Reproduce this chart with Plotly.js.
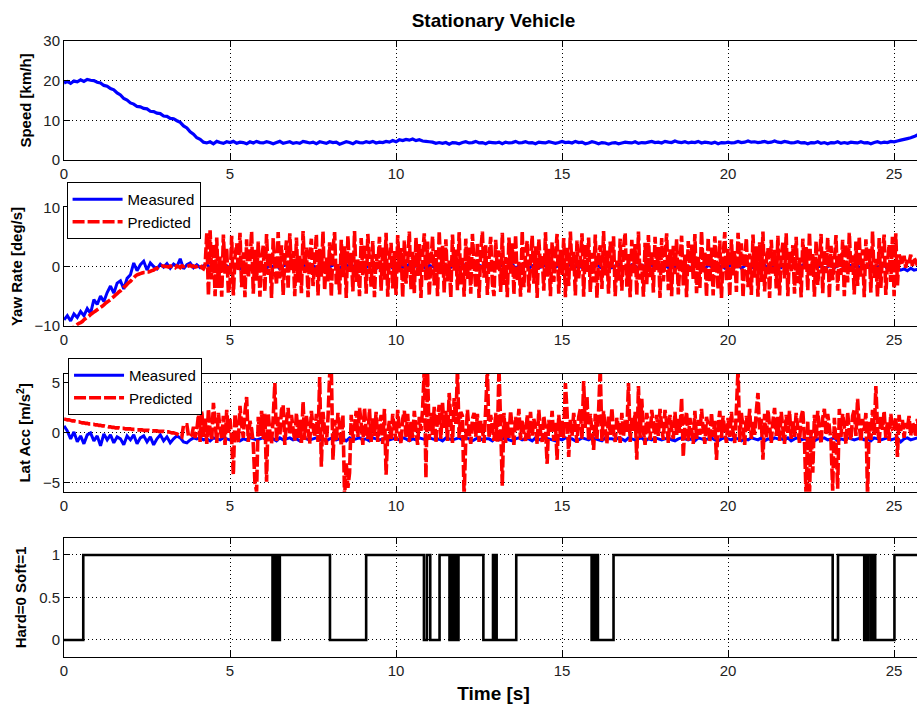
<!DOCTYPE html>
<html>
<head>
<meta charset="utf-8">
<script src="https://cdn.plot.ly/plotly-3.0.1.min.js"></script>
<style>
  html, body { margin: 0; padding: 0; overflow: hidden; background: #fff; }
  #chart { width: 923px; height: 704px; }
</style>
</head>
<body>
<div id="chart"></div>
<script>
// Logged signals start at t = 0 s. Measured channels every 0.1 s,
// model predictions every 0.05 s.
const sampleStart = 0;
const measuredPeriod = 0.1;
const predictedPeriod = 0.05;

// Vehicle speed [km/h]
const speed = [
  19.4, 19.8, 19.3, 19.9, 19.7, 20.2, 19.8, 20.3, 20.1, 20.0,
  19.6, 19.4, 18.8, 18.6, 18.0, 17.7, 16.9, 16.4, 15.5, 15.1,
  14.4, 14.1, 13.5, 13.4, 13.0, 12.9, 12.3, 12.2, 11.8, 11.7,
  11.1, 11.0, 10.5, 10.4, 9.9, 9.5, 8.6, 8.1, 7.1, 6.5,
  5.6, 5.2, 4.5, 4.3, 4.6, 4.1, 4.7, 4.4, 4.2, 4.6,
  4.4, 4.7, 4.2, 4.5, 4.4, 4.1, 4.6, 4.3, 4.7, 4.4,
  4.3, 4.6, 4.4, 4.1, 4.4, 4.7, 4.2, 4.4, 4.6, 4.2,
  4.4, 4.2, 4.7, 4.5, 4.3, 4.5, 4.1, 4.6, 4.4, 4.2,
  4.6, 4.4, 4.5, 4.0, 4.3, 4.6, 4.4, 4.1, 4.6, 4.4,
  4.3, 4.6, 4.4, 4.7, 4.3, 4.5, 4.4, 4.7, 4.5, 4.9,
  4.6, 5.1, 4.9, 5.2, 5.0, 5.3, 4.9, 5.1, 4.8, 4.7,
  4.6, 4.5, 4.2, 4.4, 4.2, 4.4, 4.0, 4.4, 4.3, 4.1,
  4.4, 4.6, 4.3, 4.4, 4.7, 4.3, 4.4, 4.1, 4.5, 4.4,
  4.3, 4.5, 4.1, 4.5, 4.3, 4.4, 4.7, 4.3, 4.4, 4.6,
  4.3, 4.4, 4.1, 4.5, 4.4, 4.3, 4.6, 4.4, 4.2, 4.4,
  4.7, 4.4, 4.5, 4.3, 4.7, 4.4, 4.5, 4.1, 4.3, 4.6,
  4.4, 4.1, 4.4, 4.3, 4.0, 4.3, 4.4, 4.1, 4.3, 4.5,
  4.4, 4.3, 4.6, 4.2, 4.4, 4.3, 4.5, 4.7, 4.4, 4.5,
  4.3, 4.7, 4.5, 4.4, 4.8, 4.5, 4.4, 4.6, 4.3, 4.5,
  4.4, 4.7, 4.3, 4.5, 4.4, 4.2, 4.5, 4.1, 4.4, 4.3,
  4.5, 4.3, 4.4, 4.7, 4.4, 4.5, 4.8, 4.5, 4.6, 4.4,
  4.5, 4.7, 4.4, 4.5, 4.8, 4.5, 4.4, 4.7, 4.5, 4.3,
  4.4, 4.6, 4.3, 4.4, 4.1, 4.4, 4.3, 4.6, 4.2, 4.4,
  4.1, 4.4, 4.3, 4.6, 4.2, 4.4, 4.2, 4.5, 4.4, 4.3,
  4.6, 4.3, 4.4, 4.1, 4.4, 4.6, 4.3, 4.5, 4.4, 4.7,
  4.6, 4.8, 5.0, 5.2, 5.4, 5.6, 5.9, 6.3, 6.7
];

// Yaw rate [deg/s]
const yawMeasured = [
  -9.0, -8.3, -9.2, -8.0, -8.6, -7.6, -8.3, -7.1, -7.9, -5.6,
  -6.4, -5.0, -5.9, -4.4, -3.3, -4.5, -2.8, -2.4, -3.8, -2.0,
  -1.4, 0.6, -0.7, 0.3, 0.9, -0.6, 0.6, 0.0, -0.4, 0.4,
  -0.1, 0.5, -0.3, 0.4, 0.0, 1.3, -0.4, 0.3, 0.6, -0.2,
  0.3, -0.2, 0.1, 0.4, -0.3, 0.2, 0.0, -0.4, 0.3, 0.1,
  -0.2, 0.3, 0.0, -0.4, 0.2, 0.1, -0.3, 0.4, -0.1, 0.2,
  0.0, -0.3, 0.3, -0.1, 0.2, -0.4, 0.1, 0.3, -0.2, 0.0,
  0.2, -0.1, 0.4, -0.3, 0.0, 0.2, -0.2, 0.3, -0.4, 0.1,
  -0.1, 0.3, 0.0, -0.3, 0.2, 0.4, -0.2, 0.1, -0.3, 0.2,
  0.0, -0.2, 0.3, 0.1, -0.4, 0.2, 0.0, -0.1, 0.3, -0.3,
  0.1, 0.3, -0.2, 0.0, 0.4, -0.3, 0.2, -0.1, 0.1, -0.4,
  0.2, 0.0, -0.3, 0.3, -0.1, 0.2, -0.4, 0.1, 0.3, -0.2,
  0.0, 0.4, -0.2, 0.1, -0.3, 0.2, 0.0, -0.1, 0.3, -0.4,
  0.2, -0.1, 0.3, 0.0, -0.2, 0.4, -0.3, 0.1, 0.0, 0.2,
  -0.3, 0.1, 0.3, -0.2, 0.0, 0.2, -0.4, 0.3, -0.1, 0.1,
  0.0, -0.3, 0.2, 0.4, -0.1, 0.1, -0.2, 0.3, 0.0, -0.4,
  0.2, 0.1, -0.3, 0.0, 0.3, -0.2, 0.1, 0.4, -0.1, 0.0,
  -0.2, 0.3, 0.1, -0.4, 0.2, 0.0, -0.1, 0.3, -0.3, 0.1,
  0.0, 0.2, -0.2, 0.4, -0.1, 0.1, -0.3, 0.2, 0.0, -0.2,
  0.3, -0.1, 0.1, -0.4, 0.2, 0.0, 0.3, -0.2, 0.1, -0.3,
  0.0, 0.2, -0.1, 0.3, -0.3, 0.1, 0.4, -0.2, 0.0, 0.2,
  -0.1, 0.3, -0.4, 0.1, 0.0, 0.2, -0.2, 0.3, -0.1, 0.0,
  0.2, -0.3, 0.1, 0.4, -0.2, 0.0, 0.3, -0.1, 0.1, -0.4,
  0.0, 0.2, -0.2, 0.1, 0.3, -0.3, 0.0, 0.2, -0.1, 0.1,
  -0.3, 0.2, 0.0, 0.4, -0.2, 0.1, -0.1, 0.3, -0.4, 0.0,
  0.1, -0.3, -0.6, -0.4, -0.7, -0.3, -0.6, -0.5, -0.4
];

const yawPredicted = [
  -11.2, -11.0, -10.9, -10.7, -10.6, -10.4, -10.2, -10.0, -9.8, -9.6,
  -9.5, -9.3, -9.0, -8.8, -8.6, -8.4, -8.1, -7.9, -7.7, -7.5,
  -7.3, -7.1, -6.9, -6.7, -6.5, -6.2, -6.0, -5.8, -5.6, -5.3,
  -5.1, -4.8, -4.6, -4.3, -4.1, -3.8, -3.5, -3.3, -3.0, -2.7,
  -2.5, -2.2, -1.9, -1.6, -1.4, -1.3, -1.2, -1.1, -1.0, -1.0,
  -0.9, -0.9, -0.8, -0.7, -0.6, -0.4, -0.3, -0.1, 0.0, 0.1,
  0.1, 0.0, 0.0, -0.1, 0.1, 0.0, 0.0, -0.2, 0.1, 0.0,
  -0.2, 0.1, 0.0, 0.2, 0.0, 0.1, 0.2, 0.0, 0.1, -0.1,
  0.0, 0.2, 0.3, -0.2, -0.4, 0.2,
  5.6, -4.9, 6.1, -2.2, 3.8, -5.0, 4.9, -3.6, 1.7, -5.1, 5.4, -1.2, 3.1, -4.4,
  -2.8, 5.2, -4.9, 1.6, 3.9, -0.8, 5.7, -3.5, 2.4, -5.2, 4.6, -1.9, 0.9, 5.9, -4.6, 2.8, -2.4, 4.2, -5.1, 1.3,
  3.5, -4.2, 5.5, -1.4, 2.2, -5.3, 4.8, 0.3, -3.1, 5.8, -2.0, 3.6, -4.8, 1.1, 4.4, -3.8, 5.6, -0.6, 2.6, -5.0,
  4.9, -2.7, 1.8, -4.5, 6.0, -1.1, 3.2, -5.2, 2.0, 4.7, -3.3, 0.7, 5.4, -4.9, 3.0, -1.7, 5.9, -4.0, 1.5, -2.5,
  4.1, -5.1, 2.9, 5.8, -3.0, 0.4, -4.7, 4.5, -1.8, 3.4, -5.3, 5.2, -0.9, 2.3, -4.2, 6.0, -2.6, 1.2, -5.0, 4.8,
  -1.5, 3.7, -4.6, 5.5, 0.8, -3.4, 4.3, -5.2, 2.1, -0.4, 5.0, -4.1, 3.3, -2.2, 5.7, -5.1, 1.4, 4.0, -3.7, 2.6,
  -4.8, 5.3, -1.0, 3.1, -5.2, 4.4, -2.9, 0.6, 5.9, -3.9, 2.5, -4.5, 4.9, -1.6, 3.8, -5.3, 1.9, 5.6, -2.3, 4.2,
  -4.9, 0.9, 5.1, -3.2, 2.8, -5.0, 6.0, -1.3, 3.5, -4.4, 4.6, -2.5, 1.0, -5.2, 5.4, -0.7, 2.9, -4.0, 5.8, -3.0,
  1.7, -5.1, 4.7, -2.1, 3.2, -4.6, 5.5, 0.2, -3.6, 4.0, -5.3, 2.4, 5.9, -1.9, 3.6, -4.8, 1.3, 5.0, -2.8, -5.0,
  4.5, -0.5, 2.7, -4.3, 5.7, -3.1, 1.6, -5.2, 4.9, -1.2, 3.9, -4.7, 5.3, -2.4, 0.8, -5.1, 6.0, -3.5, 2.2, 4.3,
  -4.4, 1.1, 5.2, -2.9, 3.4, -5.3, 4.6, -0.3, 2.0, -4.1, 5.8, -1.7, 3.0, -5.0, 4.1, -2.6, 1.5, 5.5, -4.6, 2.8,
  -1.4, 4.8, -5.2, 3.3, -3.3, 5.9, -0.8, 2.5, -4.9, 4.4, -2.0, 1.2, 5.6, -5.1, 3.7, -1.0, 4.9, -4.3, 2.3, -2.7,
  5.4, -5.3, 1.9, 3.6, -3.8, 6.0, -1.5, 2.7, -4.6, 4.2, -0.4, 5.1, -5.0, 1.0, -2.4, 4.7, -4.1, 3.1, 5.7, -3.4,
  2.1, -5.2, 4.5, -1.1, 3.8, -4.8, 5.9, -2.2, 0.5, -5.1, 4.0, -3.0, 5.3, -1.8, 2.6, -4.4, 5.0, -0.6, 3.3, -5.3,
  4.8, -2.5, 1.4, 5.6, -4.0, 2.9, -5.0, 3.5, -1.3, 4.6, -4.7, 0.8, 5.2, -3.2, 2.0, -5.2, 4.3, -0.9, 3.7, -2.1,
  5.5, -4.5, 1.8, -3.6, 6.0, -1.0, 2.4, -5.1, 4.9, -2.7, 3.2, -4.9, 5.1, 0.3, -3.9, 4.4, -5.3, 1.6, 5.8, -2.3,
  3.0, -5.0, 4.6, -1.5, 2.6, -4.3, 5.7, -0.2, 3.9, -5.2, 1.2, 4.8, -3.5, 2.2, -4.8, 5.4, -1.9, 3.4, -5.1, 4.1,
  -2.6, 5.9, -4.2, 0.9, 3.1, -5.3, 4.5, -1.2, 2.8, -3.7, 5.2, -4.9, 1.7, 4.0, -2.0, 5.6, -5.0, 2.5, -0.8, 3.6,
  -4.6, 5.0, -2.8, 1.5, -5.2, 4.7, -0.5, 3.3, -4.0, 5.8, -1.6, 2.1, -5.1, 4.3, -3.1, 1.0, 5.5, -4.5, 2.7, -1.1,
  4.9, -5.3, 3.5, -2.3, 0.6, 5.3, -4.1, 2.3, -1.4, 4.5, -5.0, 3.8, -2.7, 5.7, -0.9, 1.9, -4.7, 4.2, -3.3, 5.1,
  -1.7, 2.9, -5.2, 4.6, -0.4, 3.0, -4.4, 5.9, -2.1, 1.3, -5.1, 4.8, -3.6, 2.4, 5.4, -4.8, 0.7, 3.7, -2.6, 5.0,
  -5.0, 5.6, -3.2, 2.0, 1.4, 0.3, 1.8, -0.2, 1.2, 0.6, 2.0, 0.1, 1.5, 0.9, 0.2, 1.7, 0.4, 1.1
];

// Lateral acceleration [m/s^2]
const latMeasured = [
  0.7, 0.2, -0.6, 0.1, -0.9, -0.3, -1.1, -0.2, 0.0, -0.8,
  -0.3, -1.3, -0.1, -0.7, -0.2, -1.0, -0.4, -0.6, -1.2, -0.3,
  -0.7, -0.2, -1.1, -0.5, -0.3, -0.9, -0.4, -1.2, -0.6, -0.2,
  -0.8, -0.4, -1.0, -0.6, -0.3, -0.5, -0.9, -1.0, -0.7, -0.5,
  -0.6, -0.5, -0.7, -0.6, -0.8, -0.5, -0.6, -0.7, -0.5, -0.6,
  -0.7, -0.6, -0.5, -0.8, -0.6, -0.7, -0.5, -0.6, -0.7, -0.6,
  -0.5, -0.7, -0.6, -0.6, -0.8, -0.5, -0.7, -0.6, -0.5, -0.7,
  -0.6, -0.8, -0.5, -0.6, -0.7, -0.6, -0.5, -0.7, -0.6, -0.8,
  -0.6, -0.5, -0.7, -0.6, -0.6, -0.8, -0.5, -0.7, -0.6, -0.5,
  -0.7, -0.6, -0.8, -0.5, -0.6, -0.7, -0.6, -0.5, -0.7, -0.6,
  -0.6, -0.7, -0.5, -0.6, -0.8, -0.6, -0.7, -0.5, -0.6, -0.7,
  -0.5, -0.6, -0.7, -0.6, -0.8, -0.5, -0.6, -0.7, -0.6, -0.5,
  -0.7, -0.5, -0.6, -0.8, -0.6, -0.5, -0.7, -0.6, -0.6, -0.8,
  -0.5, -0.7, -0.6, -0.5, -0.7, -0.8, -0.6, -0.5, -0.7, -0.6,
  -0.6, -0.8, -0.5, -0.7, -0.6, -0.5, -0.6, -0.7, -0.8, -0.6,
  -0.7, -0.5, -0.6, -0.6, -0.8, -0.7, -0.5, -0.6, -0.7, -0.5,
  -0.6, -0.7, -0.8, -0.5, -0.6, -0.6, -0.7, -0.5, -0.6, -0.8,
  -0.5, -0.6, -0.7, -0.6, -0.5, -0.8, -0.6, -0.7, -0.5, -0.6,
  -0.7, -0.6, -0.5, -0.7, -0.8, -0.6, -0.5, -0.6, -0.7, -0.6,
  -0.8, -0.5, -0.6, -0.7, -0.6, -0.5, -0.7, -0.8, -0.6, -0.5,
  -0.6, -0.7, -0.5, -0.6, -0.8, -0.6, -0.7, -0.5, -0.6, -0.7,
  -0.5, -0.8, -0.6, -0.7, -0.5, -0.6, -0.6, -0.7, -0.5, -0.8,
  -0.6, -0.5, -0.7, -0.6, -0.7, -0.5, -0.8, -0.6, -0.6, -0.5,
  -0.7, -0.6, -0.5, -0.8, -0.6, -0.7, -0.5, -0.6, -0.7, -0.6,
  -0.5, -0.7, -0.6, -0.8, -0.5, -0.6, -0.7, -0.6, -0.5, -0.7,
  -0.6, -0.5, -0.9, -0.6, -0.5, -0.7, -0.6, -0.5, -0.6
];

const latPredicted = [
  1.4, 1.35, 1.3, 1.3, 1.25, 1.2, 1.2, 1.15, 1.1, 1.1,
  1.05, 1.0, 1.0, 0.95, 0.95, 0.9, 0.9, 0.85, 0.85, 0.8,
  0.8, 0.75, 0.75, 0.7, 0.7, 0.65, 0.65, 0.6, 0.6, 0.55,
  0.55, 0.5, 0.5, 0.5, 0.45, 0.45, 0.45, 0.4, 0.4, 0.4,
  0.4, 0.35, 0.35, 0.35, 0.3, 0.3, 0.3, 0.3, 0.25, 0.25,
  0.25, 0.25, 0.2, 0.2, 0.2, 0.2, 0.2, 0.15, 0.15, 0.15,
  0.15, 0.1, 0.1, 0.1, 0.05, 0.0, 0.0, -0.05, -0.1, -0.2,
  -0.3, -0.4, 0.8, 0.8, 0.8, -0.3, -0.4, -0.2, 0.6, -0.5,
  0.3, 1.8, -0.9, 2.2, -0.4, 1.5, -1.1, 2.4, 0.2, -0.7, 3.0, 1.1, -1.0, 2.0, 0.5, -0.6, 1.7, -1.2, 2.3, 0.0,
  1.4, -0.8, -4.2, 1.9, 0.3, -1.0, 2.7, 0.8, -0.5, 2.1, 3.6, -0.9, 1.2, 0.4, -1.1, -5.0, -5.9, 1.6, -0.3, 2.2,
  -0.6, 1.9, -4.9, 2.0, 0.1, -1.1, 1.5, 5.0, -0.9, 1.6, -0.3, 2.3, 2.8, -1.2, 1.1, 2.5, -0.2, 1.8, 0.4, -0.8,
  2.0, -0.5, 1.3, -1.0, 3.1, -0.7, 1.7, 0.4, -1.1, 2.2, 0.6, -0.4, 1.9, -0.9, 5.6, -3.4, 2.1, 0.2, -1.2, 1.5,
  5.8, 6.5, -2.7, 1.3, -0.8, 2.0, 0.6, -1.3, 1.8, -6.5, -3.0, -5.5, -4.0, 1.8, -1.0, 0.6, 2.2, -0.4, 2.5, 1.0,
  -1.2, 2.5, 0.2, -0.6, 2.4, -0.9, 1.5, -0.3, 2.1, -0.9, 0.7, 1.8, -1.1, 2.4, -4.2, 0.0, 1.2, -0.7, 1.9, 0.3,
  -0.8, 2.3, 0.1, -1.1, 1.4, 2.2, -0.4, 1.9, -0.9, 1.1, -0.5, 2.2, 0.3, -1.2, 1.6, 0.2, 2.4, 6.5, -4.5, 6.0,
  -0.7, 2.0, -0.2, 2.6, -1.0, 1.5, 2.8, -0.6, 3.0, 0.4, 2.2, -0.8, 4.0, 1.2, -1.0, 3.5, 0.9, 6.5, -0.5, 2.1,
  1.7, -6.5, -0.6, 2.3, 0.1, -1.1, 1.4, 2.0, -0.4, 1.9, -0.9, 1.2, 0.3, -1.0, 2.4, 6.5, -0.5, 1.8, 0.6, -0.8,
  2.0, -0.9, 6.5, 0.8, -5.3, 2.0, -1.0, 1.1, -0.5, 2.2, 0.3, -1.2, 1.6, 0.2, 2.4, -0.7, 1.3, 0.0, -0.8, 1.8,
  -0.6, 2.1, -0.3, 1.4, 0.5, -1.1, 2.3, 0.1, -0.9, 1.7, 0.4, -3.1, 1.3, 0.0, 2.2, -0.8, 1.0, -2.7, 1.8, -0.4,
  1.2, -0.5, 5.0, 2.1, -2.4, 1.4, -0.3, 2.0, 0.6, -1.0, 1.6, 2.4, -0.6, 5.2, 0.5, 3.7, -0.8, 1.9, 0.2, -1.7,
  1.9, -0.6, 2.2, 6.5, -0.8, 2.2, 0.4, -1.1, 1.7, -0.2, 2.5, 0.1, -0.9, 1.5, 0.6, -1.0, 2.0, -0.3, 1.3, 0.0,
  5.0, -0.9, 1.6, 0.2, 2.1, -2.7, 4.7, -0.5, 3.4, 0.2, -1.2, 2.0, 0.6, -0.7, 2.3, 1.0, -1.0, 1.8, -0.3, 2.4,
  0.6, -0.7, 2.3, 1.0, -1.0, 1.8, 0.3, -0.6, 2.1, -0.2, 1.4, 0.0, 3.5, -2.4, 0.9, 2.1, -0.8, 1.5, 0.4, -1.1,
  2.2, -0.6, 1.3, -0.2, 2.4, 0.3, -1.1, 1.6, 0.7, -0.9, 2.0, -0.4, 1.2, -2.7, 0.8, 2.2, -0.5, 1.7, 0.1, -1.0,
  1.5, -0.4, 2.1, 0.0, -1.0, 2.3, 6.5, -0.9, 2.0, 0.5, -1.2, 1.7, 0.2, 2.4, -0.6, 1.1, -0.2, 2.2, 4.0, 0.3,
  1.4, -2.7, 1.9, -0.5, 2.3, 0.7, -1.0, 1.2, 2.5, -0.3, 1.6, -0.8, 2.1, 0.4, -1.1, 1.8, 0.0, 2.2, -0.6, 1.3,
  -0.4, 2.0, 0.5, -1.0, 1.6, 2.3, -0.7, -6.5, 1.2, -6.5, 0.3, -4.0, 1.8, -0.6, 2.2, 0.3, -1.1, 1.5, 2.4, -0.2,
  1.9, 0.6, -0.9, -5.8, 1.5, -1.0, -5.6, 2.4, -0.4, 1.9, 0.6, -1.1, 2.1, 0.2, -0.7, 1.7, 2.3, -0.3, 3.4, 0.8,
  -0.9, 1.4, 0.2, 2.0, -6.5, 1.1, -0.7, 2.3, -0.2, 4.7, 0.5, -1.0, 1.6, 0.3, 2.2, -0.5, 1.2, -0.8, 1.9, 0.4,
  0.5, 1.6, -2.4, 1.8, 0.2, 1.3, -0.5, 1.0, 0.4, 1.7, -0.3, 1.1, 0.6, -0.4, 1.4, 0.2, 0.9, 0.8
];

// Road mode flag: switching instants [s] and state (Hard = 0, Soft = 1)
const modeTime = [
  0, 0.58, 6.28, 6.31, 6.34, 6.37, 6.40, 6.43, 6.46, 6.50,
  8.01, 9.10, 10.84, 10.93, 11.03, 11.31, 11.61, 11.64, 11.68, 11.71,
  11.75, 11.79, 11.83, 11.88, 12.63, 12.92, 12.95, 12.98, 13.03, 13.62,
  15.89, 15.92, 15.95, 15.98, 16.01, 16.04, 16.08, 16.55, 23.15, 23.31,
  24.10, 24.12, 24.15, 24.18, 24.21, 24.23, 24.31, 24.34, 24.37, 24.40,
  24.43, 25.01, 25.9
];
const modeState = [
  0, 1, 0, 1, 0, 1, 0, 1, 0, 1,
  0, 1, 0, 1, 0, 1, 0, 1, 0, 1,
  0, 1, 0, 1, 0, 1, 0, 1, 0, 1,
  0, 1, 0, 1, 0, 1, 0, 1, 0, 1,
  0, 1, 0, 1, 0, 1, 0, 1, 0, 1,
  0, 1, 1
];

const xTicks = [0, 5, 10, 15, 20, 25];
const speedTicks = [0, 10, 20, 30];
const yawTicks = [-10, 0, 10];
const latTicks = [-5, 0, 5];
const modeTicks = [0, 0.5, 1];

const FONT = 'Liberation Sans, Arial, Helvetica, sans-serif';
const BLUE = '#0000ff';
const RED = '#ff0000';
const DASH = '12px,3px';

function sampled(y, period, axisNum, color, width, name, dash, legendId) {
  const tr = {
    type: 'scatter', mode: 'lines',
    x0: sampleStart, dx: period, y: y,
    xaxis: 'x' + (axisNum === 1 ? '' : axisNum),
    yaxis: 'y' + (axisNum === 1 ? '' : axisNum),
    name: name,
    line: { color: color, width: width, dash: dash || 'solid', simplify: false },
    showlegend: !!legendId,
    hoverinfo: 'skip'
  };
  if (legendId) tr.legend = legendId;
  return tr;
}

const traces = [
  sampled(speed, measuredPeriod, 1, BLUE, 3.2, 'Speed', null, null),
  sampled(yawMeasured, measuredPeriod, 2, BLUE, 3, 'Measured', null, 'legend'),
  sampled(yawPredicted, predictedPeriod, 2, RED, 3.6, 'Predicted', DASH, 'legend'),
  sampled(latMeasured, measuredPeriod, 3, BLUE, 3, 'Measured', null, 'legend2'),
  sampled(latPredicted, predictedPeriod, 3, RED, 3.6, 'Predicted', DASH, 'legend2'),
  {
    type: 'scatter', mode: 'lines', x: modeTime, y: modeState,
    xaxis: 'x4', yaxis: 'y4', name: 'Mode',
    line: { color: '#000', width: 2.6, shape: 'hv', simplify: false },
    showlegend: false, hoverinfo: 'skip'
  }
];

const X_RANGE = [0, 25.87];

function xAxis(anchor) {
  return {
    anchor: anchor, range: X_RANGE, tickvals: xTicks,
    showgrid: true, gridcolor: '#000', gridwidth: 1, griddash: '1px,3px',
    zeroline: false, showline: true, linecolor: '#000', linewidth: 1,
    mirror: 'ticks', ticks: 'inside', ticklen: 6, tickcolor: '#000',
    tickfont: { family: FONT, size: 15, color: '#222' }
  };
}
function yAxis(anchor, domain, range, ticks, title, standoff) {
  return {
    anchor: anchor, domain: domain, range: range, tickvals: ticks,
    showgrid: true, gridcolor: '#000', gridwidth: 1, griddash: '1px,3px',
    zeroline: false, showline: true, linecolor: '#000', linewidth: 1,
    mirror: 'ticks', ticks: 'inside', ticklen: 6, tickcolor: '#000',
    tickfont: { family: FONT, size: 15, color: '#222' },
    title: { text: title, standoff: standoff,
             font: { family: FONT, size: 15, weight: 700, color: '#000' } }
  };
}

const legendStyle = {
  bgcolor: '#fff', bordercolor: '#000', borderwidth: 1,
  font: { family: FONT, size: 15, color: '#000' },
  xanchor: 'left', yanchor: 'top', itemwidth: 50,
  tracegroupgap: 0
};

const layout = {
  width: 923, height: 704,
  margin: { l: 64, r: 0, t: 41, b: 47 },
  paper_bgcolor: '#fff', plot_bgcolor: '#fff',
  font: { family: FONT, color: '#000' },
  title: {
    text: 'Stationary Vehicle',
    font: { family: FONT, size: 19, weight: 700, color: '#000' },
    xref: 'paper', x: 0.5, xanchor: 'center',
    yref: 'container', y: 1 - 20 / 704, yanchor: 'middle'
  },
  xaxis: xAxis('y'),
  xaxis2: xAxis('y2'),
  xaxis3: xAxis('y3'),
  xaxis4: Object.assign(xAxis('y4'), {
    title: { text: 'Time [s]', standoff: 8,
             font: { family: FONT, size: 19, weight: 700, color: '#000' } }
  }),
  yaxis: yAxis('x', [0.8068, 1], [0, 30], speedTicks, 'Speed [km/h]', 8),
  yaxis2: yAxis('x2', [0.5378, 0.7300], [-10, 10], yawTicks, 'Yaw Rate [deg/s]', 8),
  yaxis3: yAxis('x3', [0.2683, 0.4594], [-5.9, 5.9], latTicks, 'Lat Acc [m/s<sup>2</sup>]', 8),
  yaxis4: yAxis('x4', [0, 0.1932], [-0.2, 1.2], modeTicks, 'Hard=0 Soft=1', 8),
  legend: Object.assign({}, legendStyle, { x: 0.003, y: 0.771 }),
  legend2: Object.assign({}, legendStyle, { x: 0.0047, y: 0.4854 }),
  showlegend: true
};

Plotly.newPlot('chart', traces, layout, { staticPlot: true, displayModeBar: false });
</script>
</body>
</html>
